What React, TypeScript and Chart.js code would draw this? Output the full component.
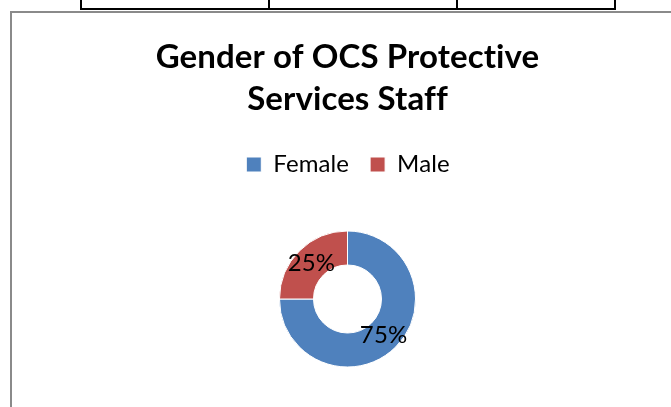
import React, { useEffect, useRef } from "react";
import { Chart, registerables } from "chart.js";

Chart.register(...registerables);

const categories = ["Female", "Male"];
const values = [75, 25];
const colors = ["#4F81BD", "#C0504D"];
const titleLines = ["Gender of OCS Protective", "Services Staff"];

const FONT = "Lato, 'Open Sans', sans-serif";

const noLigatures = {
  id: "noLigatures",
  beforeDraw(chart: any) {
    try {
      (chart.ctx as any).letterSpacing = "0.1px";
    } catch (e) {
      /* ignore */
    }
  },
};

const pctLabels = {
  id: "pctLabels",
  afterDatasetsDraw(chart: any) {
    const ctx = chart.ctx;
    const meta = chart.getDatasetMeta(0);
    const data = chart.data.datasets[0].data as number[];
    const total = data.reduce((a: number, b: number) => a + b, 0);
    ctx.save();
    ctx.font = `24px ${FONT}`;
    ctx.fillStyle = "#000";
    ctx.textAlign = "center";
    ctx.textBaseline = "middle";
    meta.data.forEach((arc: any, i: number) => {
      const p = arc.tooltipPosition(true);
      ctx.fillText(Math.round((data[i] / total) * 100) + "%", p.x, p.y);
    });
    ctx.restore();
  },
};

export default function App() {
  const ref = useRef<HTMLCanvasElement | null>(null);

  useEffect(() => {
    if (!ref.current) return;
    const chart = new Chart(ref.current, {
      type: "doughnut",
      data: {
        labels: categories,
        datasets: [
          {
            data: values,
            backgroundColor: colors,
            borderColor: "#ffffff",
            borderWidth: 1,
            radius: 68,
            cutout: "50%",
          } as any,
        ],
      },
      options: {
        responsive: false,
        animation: false,
        devicePixelRatio: 1,
        layout: { padding: { top: 0, bottom: 21.5, left: 0, right: 0 } },
        plugins: {
          title: {
            display: true,
            text: titleLines,
            color: "#000",
            font: { family: FONT, size: 33, weight: "bold", lineHeight: 41.5 / 33 },
            padding: { top: 23.75, bottom: 11.75 },
          },
          legend: {
            position: "top",
            labels: {
              boxWidth: 15,
              boxHeight: 15,
              padding: 21,
              color: "#000",
              font: { family: FONT, size: 24 },
            },
          },
          tooltip: { enabled: false },
        },
      } as any,
      plugins: [noLigatures, pctLabels],
    });
    return () => chart.destroy();
  }, []);

  const line = (s: React.CSSProperties) => (
    <div style={{ position: "absolute", background: "#000", ...s }} />
  );

  return (
    <div
      style={{
        position: "absolute",
        left: 0,
        top: 0,
        width: 671,
        height: 407,
        overflow: "hidden",
        background: "#fff",
      }}
    >
      {line({ left: 80, top: 8, width: 536, height: 2 })}
      {line({ left: 80, top: 0, width: 2, height: 10 })}
      {line({ left: 268, top: 0, width: 2, height: 10 })}
      {line({ left: 456, top: 0, width: 2, height: 10 })}
      {line({ left: 614, top: 0, width: 2, height: 10 })}
      <div
        style={{
          position: "absolute",
          left: 10,
          top: 11,
          width: 700,
          height: 430,
          borderLeft: "2px solid #8a8a8a",
          borderTop: "2px solid #8a8a8a",
        }}
      />
      <canvas
        ref={ref}
        width={671}
        height={420}
        style={{ position: "absolute", left: 12, top: 13, width: 671, height: 420 }}
      />
    </div>
  );
}
